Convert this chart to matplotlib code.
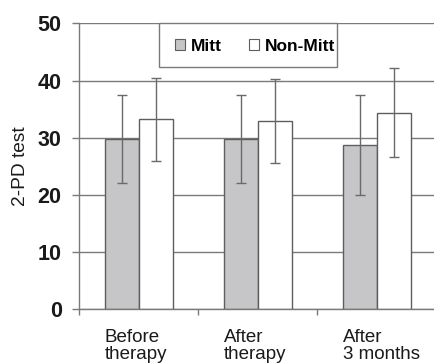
import matplotlib
matplotlib.use("Agg")
import matplotlib.pyplot as plt
import numpy as np
from matplotlib.patches import Patch, Rectangle

categories = ["Before\ntherapy", "After\ntherapy", "After\n3 months"]
mitt = [29.8, 29.8, 28.7]
mitt_err = [7.7, 7.7, 8.8]
nonmitt = [33.2, 32.9, 34.4]
nonmitt_err = [7.3, 7.4, 7.8]
yticks = [0, 10, 20, 30, 40, 50]

plt.rcParams['font.family'] = ['Liberation Sans', 'DejaVu Sans']

fig = plt.figure(figsize=(4.34, 3.63), dpi=100)
ax = fig.add_axes([0.1828, 0.1479, 1.0053 - 0.1828, 0.9358 - 0.1479])

x = np.arange(len(categories))
w = 0.286
line_c = "#7a7a7a"
edge_c = "#5e5e5e"

ax.bar(x - w / 2, mitt, w, color="#c6c6c8", edgecolor=edge_c, linewidth=1.0, zorder=2, label="Mitt")
ax.bar(x + w / 2, nonmitt, w, color="white", edgecolor=edge_c, linewidth=1.0, zorder=2, label="Non-Mitt")
ax.errorbar(x - w / 2, mitt, yerr=mitt_err, fmt="none", ecolor="#6a6a6a", elinewidth=1.0, capsize=3.8, capthick=1.0, zorder=3)
ax.errorbar(x + w / 2, nonmitt, yerr=nonmitt_err, fmt="none", ecolor="#6a6a6a", elinewidth=1.0, capsize=3.8, capthick=1.0, zorder=3)

ax.set_xlim(-0.5, len(categories) - 0.5)
ax.set_ylim(0, 50)
ax.set_yticks(yticks)
ax.set_yticklabels([str(v) for v in yticks], fontsize=15.5, fontweight="bold", color="#1a1a1a")
ax.yaxis.grid(True, color=line_c, linewidth=1.0, zorder=0)
ax.set_axisbelow(True)

ax.set_xticks(np.arange(len(categories) + 1) - 0.5)
ax.set_xticklabels([])
ax.set_xticks(x - w, minor=True)
ax.set_xticklabels(categories, minor=True, fontsize=13.5, ha="left", multialignment="left", color="#1a1a1a", linespacing=1.0)
ax.tick_params(axis="x", which="major", direction="out", length=4.5, color=line_c, width=1.0)
ax.tick_params(axis="x", which="minor", length=0, pad=14)
ax.tick_params(axis="y", direction="out", length=4.75, color=line_c, width=1.0, pad=8)

for s in ["top", "right"]:
    ax.spines[s].set_visible(False)
for s in ["left", "bottom"]:
    ax.spines[s].set_color(line_c)
    ax.spines[s].set_linewidth(1.0)

fig.text(20.8 / 434, 1 - 166.5 / 363, "2-PD test", rotation=90, ha="center", va="center", fontsize=13.8, color="#1a1a1a")

# legend frame (axes fraction)
ax.add_patch(Rectangle((0.2241, 0.846), 0.721 - 0.2241, 1.0 - 0.846, transform=ax.transAxes,
                       facecolor="white", edgecolor=line_c, linewidth=1.0, zorder=4, clip_on=False))
handles = [Patch(facecolor="#c6c6c8", edgecolor=edge_c, linewidth=0.8),
           Patch(facecolor="white", edgecolor=edge_c, linewidth=0.8)]
leg = ax.legend(handles, ["Mitt", "Non-Mitt"], ncol=2, loc="center left",
                bbox_to_anchor=(0.268, 0.9196),
                prop={"weight": "bold", "size": 12.5}, frameon=False,
                handlelength=0.6, handleheight=0.6,
                handletextpad=0.33, columnspacing=1.52, borderpad=0, borderaxespad=0)
leg.set_zorder(5)

fig.savefig("out.png", dpi=100)
